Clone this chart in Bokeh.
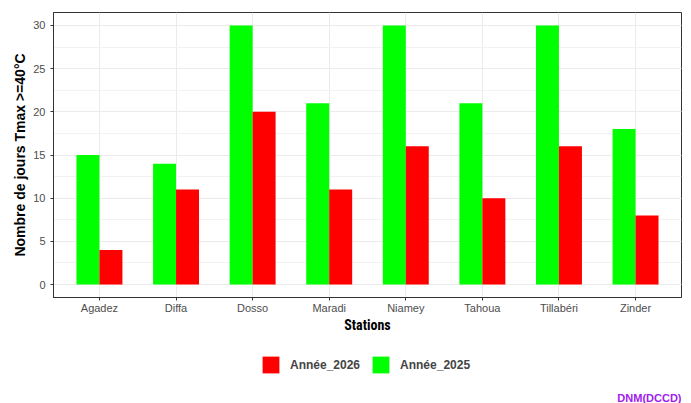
from bokeh.plotting import figure
from bokeh.layouts import column
from bokeh.models import (FactorRange, Range1d, SingleIntervalTicker, Legend, LegendItem,
                          Label, ColumnDataSource)
from bokeh.transform import dodge
from bokeh.embed import file_html
from bokeh.resources import INLINE

stations = ["Agadez", "Diffa", "Dosso", "Maradi", "Niamey", "Tahoua", "Tillabéri", "Zinder"]
annee_2025 = [15, 14, 30, 21, 30, 21, 30, 18]
annee_2026 = [4, 11, 20, 11, 16, 10, 16, 8]
series_labels = ["Année_2026", "Année_2025"]
caption_text = "DNM(DCCD)"

GREEN = "#00FF00"
RED = "#FF0000"

src = ColumnDataSource(dict(st=stations, a25=annee_2025, a26=annee_2026))

p = figure(frame_width=628, frame_height=285, x_range=FactorRange(*stations, range_padding=0.025),
           y_range=Range1d(-1.5, 31.5), output_backend="svg", toolbar_location=None,
           min_border_left=53, min_border_right=10, min_border_top=12, min_border_bottom=45)

p.vbar(x=dodge("st", -0.15, range=p.x_range), top="a25", width=0.3, bottom=0,
       source=src, fill_color=GREEN, line_color=None)
p.vbar(x=dodge("st", 0.15, range=p.x_range), top="a26", width=0.3, bottom=0,
       source=src, fill_color=RED, line_color=None)

p.yaxis.ticker = SingleIntervalTicker(interval=5, num_minor_ticks=2)
p.ygrid.minor_grid_line_color = "#F2F2F2"
p.ygrid.grid_line_color = "#EBEBEB"
p.xgrid.grid_line_color = "#EBEBEB"

for ax in (p.xaxis[0], p.yaxis[0]):
    ax.axis_line_color = "#333333"
    ax.major_tick_line_color = "#333333"
    ax.major_tick_out = 3
    ax.major_tick_in = 0
    ax.minor_tick_line_color = None
    ax.major_label_text_color = "#4D4D4D"
    ax.major_label_text_font = "Liberation Sans"
    ax.major_label_text_font_size = "11px"
    ax.axis_label_text_font_style = "bold"
    ax.axis_label_text_color = "black"

p.yaxis.axis_label = "Nombre de jours Tmax >=40°C"
p.yaxis.axis_label_text_font = "Liberation Sans"
p.yaxis.axis_label_text_font_size = "14px"
p.yaxis.axis_label_standoff = 2
p.yaxis.major_label_standoff = 4
p.xaxis.axis_label = "Stations"
p.xaxis.axis_label_text_font = "Roboto Condensed, Roboto"
p.xaxis.axis_label_text_font_size = "14px"
p.xaxis.axis_label_standoff = 0
p.xaxis.major_label_standoff = 1

p.outline_line_color = "#333333"
p.outline_line_width = 1
p.background_fill_color = "white"
p.border_fill_color = "white"

# Legend + caption strip
p2 = figure(width=691, height=61, x_range=FactorRange(*stations), y_range=Range1d(100, 101),
            output_backend="svg", toolbar_location=None,
            x_axis_location=None, y_axis_location=None,
            min_border_left=0, min_border_right=0, min_border_top=0, min_border_bottom=0)
p2.grid.visible = False
p2.outline_line_color = None
r2 = p2.vbar(x="st", top="a26", width=0.3, bottom=0, source=src, fill_color=RED, line_color=None)
g2 = p2.vbar(x="st", top="a25", width=0.3, bottom=0, source=src, fill_color=GREEN, line_color=None)

legend = Legend(items=[LegendItem(label=series_labels[0], renderers=[r2]),
                       LegendItem(label=series_labels[1], renderers=[g2])],
                orientation="horizontal", location=(207, 28),
                glyph_width=21, glyph_height=21, label_text_font_size="12px",
                label_text_font_style="bold", label_text_font="Liberation Sans",
                border_line_color=None, background_fill_alpha=0,
                spacing=10, label_standoff=9, margin=0, padding=4)
p2.add_layout(legend, "center")

cap = Label(x=628, y=6, x_units="screen", y_units="screen", text=caption_text,
            text_align="right", text_baseline="middle", text_color="#A020F0",
            text_font="Liberation Sans", text_font_size="11px", text_font_style="bold")
p2.add_layout(cap)

layout = column(p, p2, spacing=0)
open("out.html", "w").write(file_html(layout, INLINE))
